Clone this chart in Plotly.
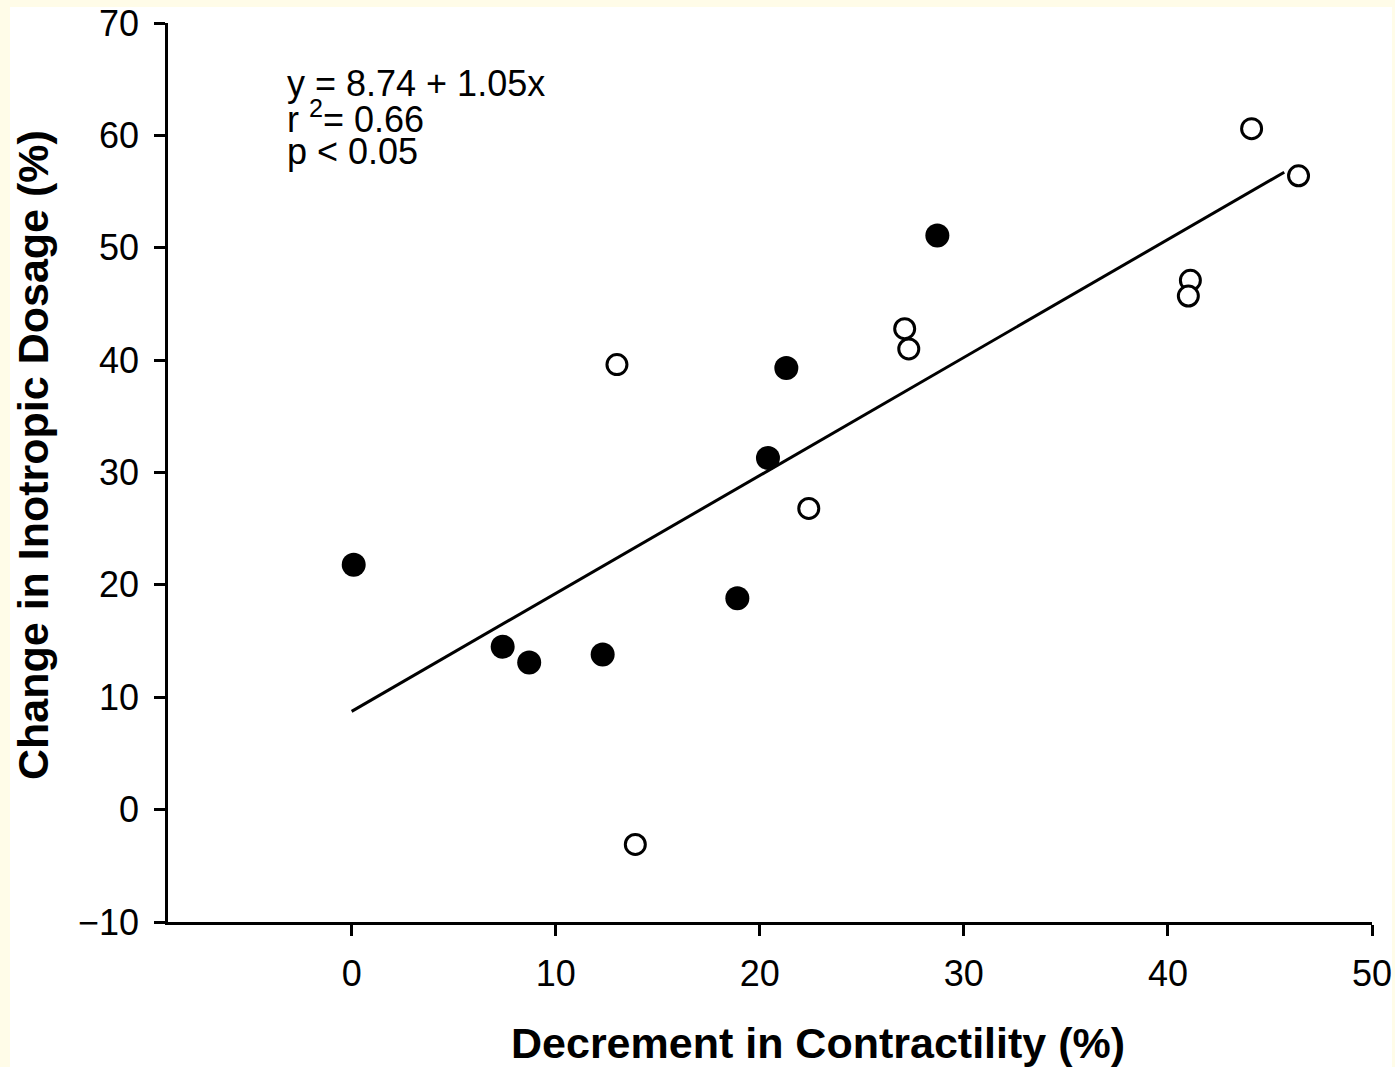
import plotly.graph_objects as go

# Data
filled_x = [0.1, 7.4, 8.7, 12.3, 18.9, 20.4, 21.3, 28.7]
filled_y = [21.8, 14.5, 13.1, 13.8, 18.8, 31.3, 39.3, 51.1]

open_x = [13.0, 13.9, 22.4, 27.1, 27.3, 41.1, 41.0, 44.1, 46.4]
open_y = [39.6, -3.1, 26.8, 42.8, 41.0, 47.1, 45.7, 60.6, 56.4]

fit_intercept = 8.74
fit_slope = 1.05
fit_x = [0.0, 45.7]
fit_y = [fit_intercept + fit_slope * v for v in fit_x]

x_ticks = [0, 10, 20, 30, 40, 50]
y_ticks = [-10, 0, 10, 20, 30, 40, 50, 60, 70]

stats_lines = ["y = 8.74 + 1.05x", "r <sup>2</sup>= 0.66", "p &lt; 0.05"]
x_title = "Decrement in Contractility (%)"
y_title = "Change in Inotropic Dosage (%)"

FONT = "Liberation Sans, Arial, Helvetica, sans-serif"

fig = go.Figure()
fig.add_trace(go.Scatter(x=fit_x, y=fit_y, mode="lines",
                         line=dict(color="black", width=3), showlegend=False,
                         hoverinfo="skip"))
fig.add_trace(go.Scatter(x=filled_x, y=filled_y, mode="markers",
                         marker=dict(size=24, color="black", line=dict(width=0)),
                         showlegend=False))
fig.add_trace(go.Scatter(x=open_x, y=open_y, mode="markers",
                         marker=dict(size=20, color="white",
                                     line=dict(color="black", width=3)),
                         showlegend=False))

# plot area pixel geometry
L, R, T, B = 168, 23, 23, 145
W, H = 1395, 1067
pw = W - L - R
ph = H - T - B

def px_x(p):
    return (p - L) / pw

def px_y(p):
    return (H - B - p) / ph

fig.add_shape(type="rect", xref="paper", yref="paper",
              x0=px_x(10), x1=px_x(1392), y0=px_y(1067), y1=px_y(7),
              fillcolor="white", line=dict(width=0), layer="below")

annotations = []
for i, (txt, yp) in enumerate(zip(stats_lines, [83, 117, 152])):
    annotations.append(dict(text=txt, xref="paper", yref="paper",
                            x=px_x(285), y=px_y(yp), xanchor="left", yanchor="middle",
                            showarrow=False, font=dict(size=36, color="black", family=FONT)))
annotations.append(dict(text="<b>" + x_title + "</b>", xref="paper", yref="paper",
                        x=px_x(818), y=px_y(1043), xanchor="center", yanchor="middle",
                        showarrow=False, font=dict(size=43, color="black", family=FONT)))
annotations.append(dict(text="<b>" + y_title + "</b>", xref="paper", yref="paper",
                        x=px_x(33), y=px_y(455), xanchor="center", yanchor="middle",
                        textangle=-90, showarrow=False,
                        font=dict(size=43, color="black", family=FONT)))

fig.update_layout(
    width=W, height=H, autosize=False,
    margin=dict(l=L, r=R, t=T, b=B, pad=0, autoexpand=False),
    paper_bgcolor="#FFFCE8", plot_bgcolor="white",
    font=dict(family=FONT, color="black"),
    annotations=annotations,
    xaxis=dict(range=[-9, 50], tickvals=x_ticks, ticktext=[str(v) for v in x_ticks],
               automargin=False,
               showgrid=False, zeroline=False, showline=True, linecolor="black",
               linewidth=2.5, ticks="outside", ticklen=11, tickwidth=2.5,
               tickcolor="black", tickfont=dict(size=36, family=FONT, color="black"),
               ticklabelstandoff=7),
    yaxis=dict(range=[-10, 70], tickvals=y_ticks,
               ticktext=[("\u2212" + str(-v)) if v < 0 else str(v) for v in y_ticks],
               automargin=False,
               showgrid=False, zeroline=False, showline=True, linecolor="black",
               linewidth=2.5, ticks="outside", ticklen=11, tickwidth=2.5,
               tickcolor="black", tickfont=dict(size=36, family=FONT, color="black"),
               ticklabelstandoff=8),
)

post = ("document.body.style.margin='0';document.body.style.padding='0';"
        "var gd=document.getElementById('{plot_id}');"
        "gd.style.position='absolute';gd.style.left='0px';gd.style.top='0px';")
fig.write_html("out.html", post_script=post, config={"displayModeBar": False})
